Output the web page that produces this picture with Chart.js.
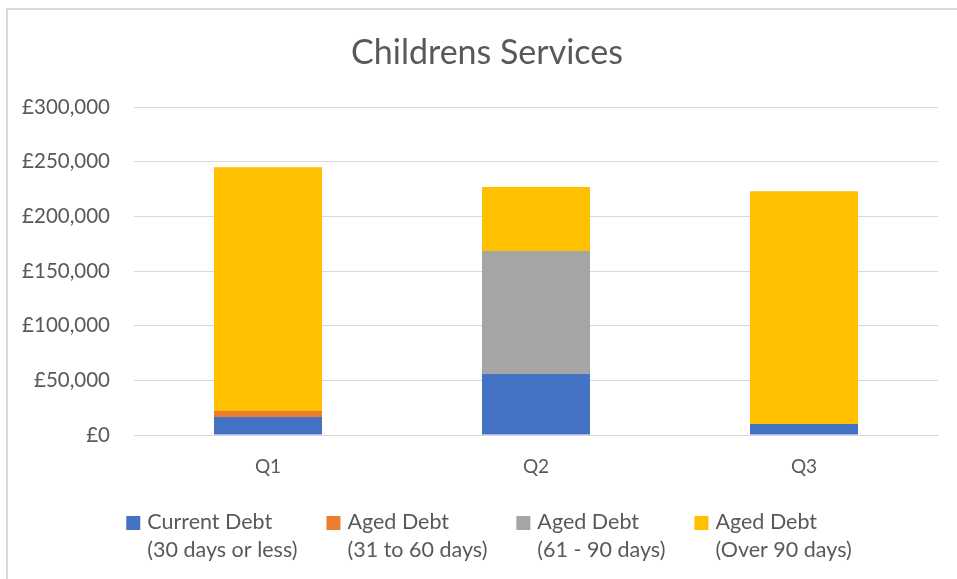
<!DOCTYPE html>
<html>
<head>
<meta charset="utf-8">
<script src="https://cdn.jsdelivr.net/npm/chart.js@4"></script>
<style>
html, body { margin: 0; padding: 0; background: #fff; }
#wrap { width: 957px; height: 579px; position: relative; }
</style>
</head>
<body>
<div id="wrap"><canvas id="chart" width="957" height="579"></canvas></div>
<script>
const quarters = ['Q1', 'Q2', 'Q3'];
const currentDebt = [16500, 55800, 10000];
const aged31to60 = [5500, 0, 0];
const aged61to90 = [0, 112500, 0];
const agedOver90 = [223000, 58600, 213000];
const seriesNames = [
    ['Current Debt', '(30 days or less)'],
    ['Aged Debt', '(31 to 60 days)'],
    ['Aged Debt', '(61 - 90 days)'],
    ['Aged Debt', '(Over 90 days)']
];
const seriesColors = ['#4472C4', '#ED7D31', '#A5A5A5', '#FFC000'];
const yMax = 300000;
const yStep = 50000;
const chartTitle = 'Childrens Services';

const FONT = 'Lato, "Liberation Sans", sans-serif';
const TEXT_COLOR = '#595959';

// title, frame and the two-line legend, drawn on the canvas
const decorPlugin = {
    id: 'decor',
    beforeDraw(chart) {
        const ctx = chart.ctx;
        ctx.save();
        ctx.strokeStyle = '#d9d9d9';
        ctx.lineWidth = 2;
        ctx.beginPath();
        ctx.moveTo(7, chart.height);
        ctx.lineTo(7, 9);
        ctx.lineTo(chart.width, 9);
        ctx.stroke();
        ctx.restore();
    },
    afterDraw(chart) {
        const ctx = chart.ctx;
        ctx.save();
        ctx.fillStyle = TEXT_COLOR;
        ctx.textAlign = 'center';
        ctx.textBaseline = 'middle';
        ctx.font = '34px ' + FONT;
        ctx.fillText(chartTitle, 487, 53);

        // legend
        ctx.font = '21.5px ' + FONT;
        ctx.textAlign = 'left';
        const box = 14, boxGap = 7, itemGap = 29;
        const items = chart.data.datasets.map(ds => {
            const w = Math.max(...ds.label.map(t => ctx.measureText(t).width));
            return { ds, w };
        });
        const total = items.reduce((s, it) => s + box + boxGap + it.w, 0) + itemGap * (items.length - 1);
        let x = 489 - total / 2;
        items.forEach(it => {
            ctx.fillStyle = it.ds.backgroundColor;
            ctx.fillRect(x, 516, box, box);
            ctx.fillStyle = TEXT_COLOR;
            ctx.fillText(it.ds.label[0], x + box + boxGap, 522);
            ctx.fillText(it.ds.label[1], x + box + boxGap, 550);
            x += box + boxGap + it.w + itemGap;
        });
        ctx.restore();
    }
};

const seriesData = [currentDebt, aged31to60, aged61to90, agedOver90];

new Chart(document.getElementById('chart'), {
    type: 'bar',
    data: {
        labels: quarters,
        datasets: seriesData.map((d, i) => ({
            label: seriesNames[i],
            data: d,
            backgroundColor: seriesColors[i],
            borderWidth: 0,
            categoryPercentage: 1,
            barPercentage: 0.403
        }))
    },
    options: {
        responsive: false,
        animation: false,
        layout: { padding: { top: 107, right: 19, bottom: 0, left: 0 } },
        plugins: {
            legend: { display: false },
            title: { display: false },
            tooltip: { enabled: false }
        },
        scales: {
            x: {
                stacked: true,
                grid: { display: false, drawTicks: false },
                border: { color: '#d9d9d9' },
                ticks: { color: TEXT_COLOR, font: { family: FONT, size: 19 }, padding: 20 },
                afterFit(scale) { scale.height = 144; }
            },
            y: {
                stacked: true,
                min: 0,
                max: yMax,
                grid: { color: '#d9d9d9', drawTicks: false },
                border: { display: false },
                ticks: {
                    stepSize: yStep,
                    color: TEXT_COLOR,
                    font: { family: FONT, size: 20.5 },
                    padding: 24,
                    callback: v => '£' + v.toLocaleString('en-GB')
                },
                afterFit(scale) { scale.width = 134; }
            }
        }
    },
    plugins: [decorPlugin]
});
</script>
</body>
</html>
